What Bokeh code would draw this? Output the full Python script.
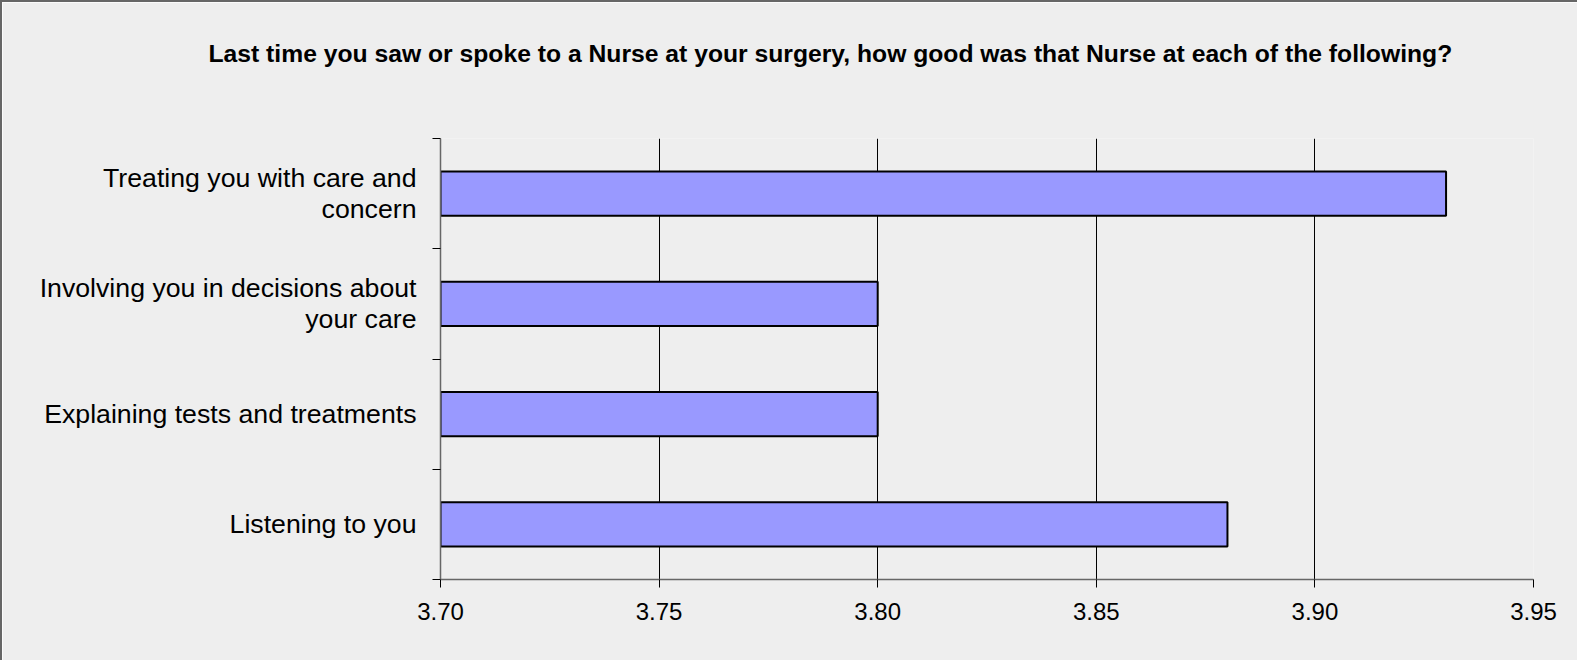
from bokeh.plotting import figure
from bokeh.models import Range1d, FixedTicker, Title, ColumnDataSource
from bokeh.embed import file_html
from bokeh.resources import INLINE

categories = ["Treating you with care and\nconcern",
              "Involving you in decisions about\nyour care",
              "Explaining tests and treatments",
              "Listening to you"]
values = [3.93, 3.80, 3.80, 3.88]
x_ticks = [3.70, 3.75, 3.80, 3.85, 3.90, 3.95]
x_start = 3.70
x_end = 3.95
title_text = "Last time you saw or spoke to a Nurse at your surgery, how good was that Nurse at each of the following?"

n = len(categories)
ypos = [n - i - 0.5 for i in range(n)]

W, H = 1577, 660
B_LEFT, B_RIGHT, B_TOP, B_BOTTOM = 438, 46, 136, 83

src = ColumnDataSource(dict(y=ypos, right=values, left=[x_start] * n, cat=categories))

p = figure(width=W, height=H, output_backend="svg", toolbar_location=None,
           x_range=Range1d(x_start, x_end), y_range=Range1d(0, n),
           min_border_left=B_LEFT, min_border_right=B_RIGHT,
           min_border_top=B_TOP, min_border_bottom=B_BOTTOM)
p.title = None
# trailing empty line lifts the title toward the top of the chart area
t = Title(text=title_text + "\n", align="left", offset=-232, standoff=68,
          vertical_align="bottom",
          text_font="Liberation Sans", text_font_size="24.7px", text_font_style="bold",
          text_line_height=1.4, text_color="#000000")
p.add_layout(t, "above")

p.background_fill_color = "#eeeeee"
p.border_fill_color = "#eeeeee"
p.outline_line_color = None
p.styles = {"border-left": "2px solid #666666", "border-top": "2px solid #666666"}

p.hbar(y="y", left="left", right="right", height=0.4, source=src,
       fill_color="#9999ff", line_color="#000000", line_width=2)

# x axis
p.xaxis.ticker = FixedTicker(ticks=x_ticks)
p.xaxis.major_label_overrides = {v: f"{v:.2f}" for v in x_ticks}
p.xaxis.axis_line_color = "#666666"
p.xaxis.axis_line_width = 1.5
p.xaxis.major_tick_out = 8
p.xaxis.major_tick_in = 0
p.xaxis.major_tick_line_color = "#000000"
p.xaxis.minor_tick_out = 0
p.xaxis.minor_tick_in = 0
p.xaxis.major_label_standoff = 15
p.xaxis.major_label_text_font = "Liberation Sans"
p.xaxis.major_label_text_font_size = "24px"
p.xaxis.major_label_text_color = "#000000"

# y axis
p.yaxis.ticker = FixedTicker(ticks=ypos, minor_ticks=list(range(n + 1)))
p.yaxis.major_label_overrides = {y: c for y, c in zip(ypos, categories)}
p.yaxis.axis_line_color = "#666666"
p.yaxis.axis_line_width = 1.5
p.yaxis.major_tick_out = 0
p.yaxis.major_tick_in = 0
p.yaxis.minor_tick_out = 8
p.yaxis.minor_tick_in = 0
p.yaxis.minor_tick_line_color = "#000000"
p.yaxis.major_label_standoff = 16
p.yaxis.major_label_text_font = "Liberation Sans"
p.yaxis.major_label_text_font_size = "26.7px"
p.yaxis.major_label_text_line_height = 1.04
p.yaxis.major_label_text_color = "#000000"

p.xgrid.ticker = FixedTicker(ticks=x_ticks)
p.xgrid.grid_line_color = "#000000"
p.xgrid.grid_line_width = 1
p.ygrid.grid_line_color = None

open("out.html", "w").write(file_html(p, INLINE))
